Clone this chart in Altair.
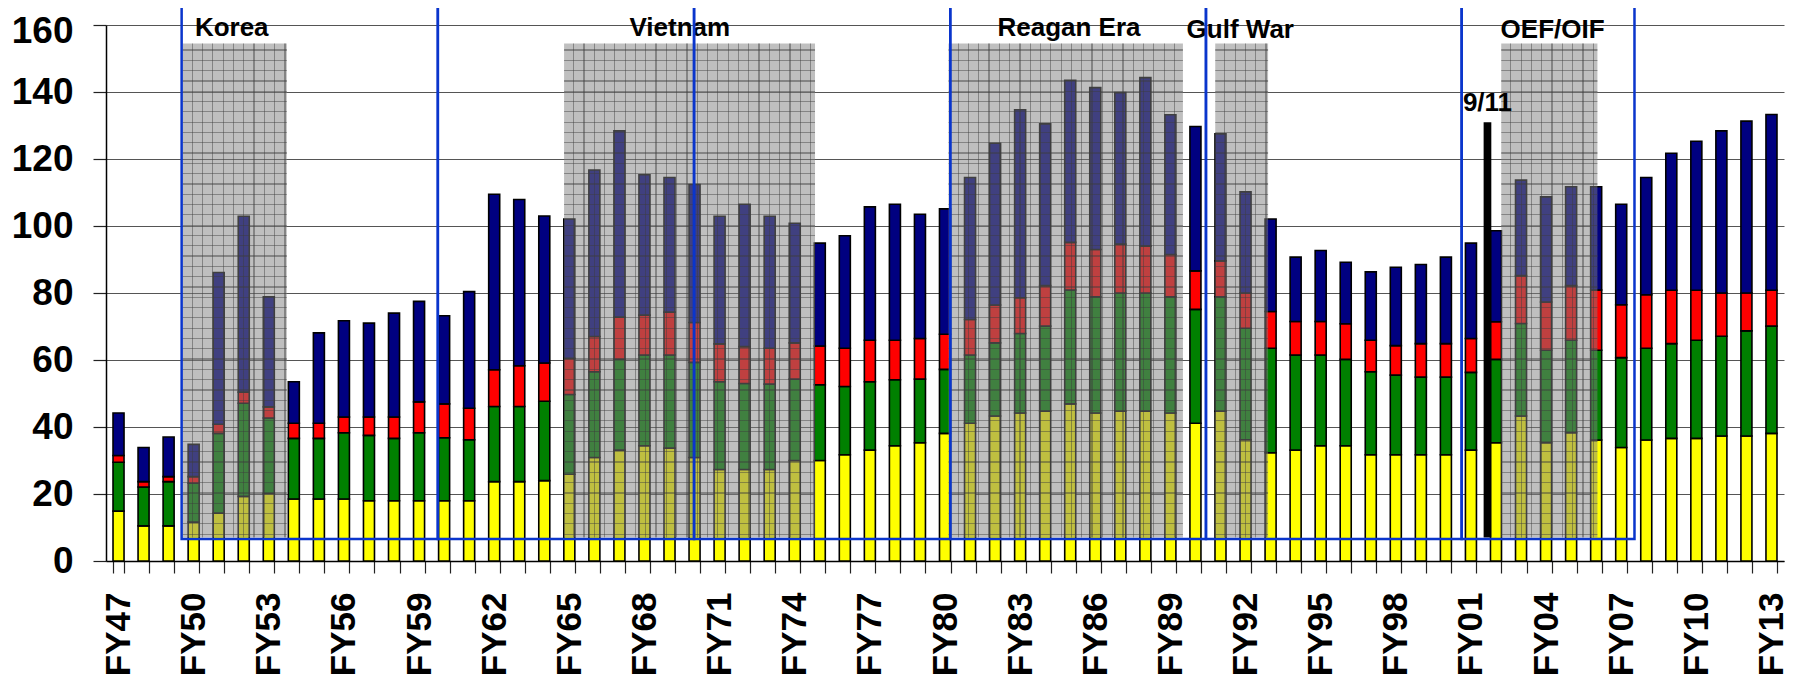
import altair as alt
import pandas as pd

# ---------------- data ----------------
years = list(range(1947, 2014))
series_names = ["Series 1", "Series 2", "Series 3", "Series 4"]
series_colors = ["#FFFF00", "#008000", "#FF0000", "#000080"]

yellow = [14.9, 10.5, 10.5, 11.6, 14.3, 19.3, 20.1, 18.5, 18.5, 18.5,
          18.0, 18.0, 18.0, 18.0, 18.0, 23.7, 23.7, 24.0, 25.9, 30.9,
          33.1, 34.4, 33.7, 30.9, 27.3, 27.3, 27.3, 30.0, 30.0, 31.7,
          33.1, 34.4, 35.3, 38.1, 41.1, 43.3, 44.2, 44.7, 46.9, 44.2,
          44.7, 44.7, 44.2, 41.1, 44.7, 36.2, 32.3, 33.1, 34.4, 34.4,
          31.7, 31.7, 31.7, 31.7, 33.1, 35.3, 43.3, 35.3, 38.3, 36.1,
          33.9, 36.1, 36.6, 36.6, 37.3, 37.3, 38.1]
green = [14.6, 11.6, 13.2, 11.6, 23.8, 27.8, 22.6, 18.1, 18.1, 19.8,
         19.5, 18.6, 20.3, 18.8, 18.2, 22.4, 22.4, 23.7, 23.8, 25.6,
         27.1, 27.1, 27.8, 28.4, 26.2, 25.7, 25.5, 24.3, 22.6, 20.4,
         20.4, 19.7, 19.0, 19.1, 20.4, 21.8, 23.7, 25.4, 34.0, 34.7,
         35.3, 35.3, 34.7, 34.0, 34.2, 33.3, 31.2, 28.4, 27.1, 25.8,
         24.8, 23.8, 23.2, 23.2, 23.2, 24.9, 27.6, 27.6, 27.6, 26.8,
         26.8, 27.4, 28.3, 29.3, 29.8, 31.4, 32.0]
red = [2.0, 1.6, 1.5, 2.0, 2.7, 3.3, 3.3, 4.5, 4.5, 4.7,
       5.5, 6.4, 9.2, 10.1, 9.4, 11.0, 12.2, 11.4, 10.8, 10.5,
       12.6, 11.9, 12.8, 11.9, 11.3, 11.0, 10.7, 10.8, 11.6, 11.4,
       12.4, 11.8, 12.1, 10.5, 10.6, 11.3, 10.7, 12.1, 14.2, 14.1,
       14.6, 14.0, 12.6, 11.5, 10.7, 10.5, 11.0, 10.0, 10.0, 10.6,
       9.4, 8.8, 10.0, 10.0, 10.1, 11.2, 14.3, 14.4, 16.3, 18.0,
       15.8, 16.0, 15.9, 14.9, 12.9, 11.3, 10.7]
navy = [12.7, 10.2, 11.8, 9.6, 45.3, 52.5, 32.9, 12.4, 27.0, 28.7,
        28.0, 31.0, 30.0, 26.3, 34.8, 52.4, 49.6, 43.9, 41.6, 49.7,
        55.6, 41.9, 40.2, 41.2, 38.1, 42.5, 39.4, 35.7, 30.7, 33.6,
        39.8, 40.6, 37.1, 37.4, 42.4, 48.3, 56.1, 48.3, 48.4, 48.3,
        45.2, 50.3, 41.7, 43.1, 37.9, 30.2, 27.6, 19.2, 21.2, 18.4,
        20.4, 23.4, 23.6, 25.8, 28.5, 27.2, 28.5, 31.4, 29.5, 30.8,
        30.0, 35.0, 40.9, 44.5, 48.4, 51.3, 52.5]

# shaded eras (fiscal-year units)
era_names = ["Korea", "Vietnam", "Reagan Era", "Gulf War", "OEF/OIF"]
era_start = [1949.56, 1964.79, 1980.14, 1990.79, 2002.21]
era_end = [1953.72, 1974.81, 1989.50, 1992.90, 2006.05]
era_label_x = [1951.52, 1969.41, 1984.95, 1991.79, 2004.26]
era_label_y = [159.0, 159.0, 159.0, 158.4, 158.4]
shade_low = [7.0, 7.0, 7.0, 7.0, 7.0]
shade_high = [154.5, 154.5, 154.5, 154.5, 154.5]

# blue outline boxes
box_edges = [1949.52, 1959.75, 1969.98, 1980.21, 1990.42, 2000.63, 2007.53]
box_low = 6.6
box_high = 172.0

# 9/11 marker
event_label = ["9/11"]
event_x = [2001.66]
event_low = [7.0]
event_high = [131.0]
event_label_y = [136.8]

# ---------------- tables ----------------
rows = []
for i, y in enumerate(years):
    for k, (nm, vals) in enumerate(zip(series_names, [yellow, green, red, navy])):
        rows.append({"year": y, "series": nm, "value": vals[i], "order": k})
df = pd.DataFrame(rows)

eras = pd.DataFrame({"name": era_names, "start": era_start, "end": era_end,
                     "lx": era_label_x, "ly": era_label_y,
                     "lo": shade_low, "hi": shade_high})
boxes = pd.DataFrame({"a": box_edges[:-1], "b": box_edges[1:],
                      "lo": [box_low] * (len(box_edges) - 1),
                      "hi": [box_high] * (len(box_edges) - 1)})
event = pd.DataFrame({"label": event_label, "x": event_x, "lo": event_low,
                      "hi": event_high, "ly": event_label_y})

# ---------------- layout ----------------
W, H = 1678, 536
YMAX = 160
FONT = "Liberation Sans"
n_years = len(years)
step_px = W / n_years
px_per_unit = H / YMAX

yscale = alt.Scale(domain=[0, YMAX], nice=False, zero=True)
xlin = alt.Scale(domain=[years[0] - 0.5, years[-1] + 0.5], nice=False, zero=False)
yaxis = alt.Axis(title=None, values=list(range(0, YMAX + 1, 20)),
                 grid=True, gridColor="#555555", gridWidth=1,
                 tickSize=13, tickColor="#222222", tickWidth=1.2,
                 domainColor="black", domainWidth=1.5,
                 labelFont=FONT, labelFontSize=37, labelFontWeight="bold",
                 labelColor="black", labelPadding=20,
                 labelOffset={"condition": {"test": "datum.value == %d" % YMAX, "value": 6},
                              "value": 0})


def Y(field):
    return alt.Y(field, scale=yscale, axis=yaxis)


bars = alt.Chart(df).mark_bar(stroke="black", strokeWidth=1.6).encode(
    x=alt.X("year:O",
            scale=alt.Scale(paddingInner=0.56, paddingOuter=0.28),
            axis=alt.Axis(title=None, tickBand="extent", labelAngle=-90,
                          labelExpr="datum.value % 3 == 0 ? 'FY' + slice(toString(datum.value), 2) : ''",
                          labelFont=FONT, labelFontSize=35, labelFontWeight="bold",
                          labelColor="black", labelPadding=19, labelOverlap=False,
                          tickSize=12, tickColor="#222222", tickWidth=1.2,
                          domainColor="black", domainWidth=1.5, grid=False)),
    y=alt.Y("value:Q", stack="zero", scale=yscale, axis=yaxis),
    color=alt.Color("series:N", scale=alt.Scale(domain=series_names, range=series_colors),
                    legend=None),
    order=alt.Order("order:Q"),
)


def era_enc(chart):
    return chart.encode(
        x=alt.X("start:Q", scale=xlin, axis=None),
        x2="end:Q",
        y=Y("lo:Q"),
        y2="hi:Q",
    )


shade = era_enc(alt.Chart(eras).mark_rect(fill="#7f7f7f", opacity=0.5))

# hatch texture (grid) drawn with hard-stop gradients
LINE = "rgba(60,60,60,0.45)"
CLEAR = "rgba(0,0,0,0)"
PERIOD = 10.3
LW = 1.2


def stripe_stops(length_px, first):
    stops = [{"offset": 0, "color": CLEAR}]
    p = first
    while p + LW < length_px:
        a = p / length_px
        b = (p + LW) / length_px
        stops += [{"offset": a, "color": CLEAR}, {"offset": a, "color": LINE},
                  {"offset": b, "color": LINE}, {"offset": b, "color": CLEAR}]
        p += PERIOD
    stops.append({"offset": 1, "color": CLEAR})
    return stops


h_px = (shade_high[0] - shade_low[0]) * px_per_unit
hatch_h = era_enc(alt.Chart(eras).mark_rect(
    fill={"gradient": "linear", "x1": 0, "x2": 0, "y1": 0, "y2": 1,
          "stops": stripe_stops(h_px, 6.0)}))

hatch_v = []
for nm, s, e in zip(era_names, era_start, era_end):
    w_px = (e - s) * step_px
    hatch_v.append(era_enc(alt.Chart(eras).transform_filter(alt.datum.name == nm).mark_rect(
        fill={"gradient": "linear", "x1": 0, "x2": 1, "y1": 0, "y2": 0,
              "stops": stripe_stops(w_px, 9.0)})))

blue = alt.Chart(boxes).mark_rect(fill="white", fillOpacity=0, stroke="#0a35cc",
                                  strokeWidth=2.5).encode(
    x=alt.X("a:Q", scale=xlin, axis=None), x2="b:Q",
    y=Y("lo:Q"), y2="hi:Q")

marker = alt.Chart(event).mark_rule(color="black", strokeWidth=7.7).encode(
    x=alt.X("x:Q", scale=xlin, axis=None),
    y=Y("lo:Q"), y2="hi:Q")

marker_text = alt.Chart(event).mark_text(font=FONT, fontSize=26, fontWeight="bold",
                                         color="black", align="center",
                                         baseline="middle").encode(
    x=alt.X("x:Q", scale=xlin, axis=None),
    y=Y("ly:Q"), text="label:N")

era_text = alt.Chart(eras).mark_text(font=FONT, fontSize=26, fontWeight="bold",
                                     color="black", align="center",
                                     baseline="middle").encode(
    x=alt.X("lx:Q", scale=xlin, axis=None),
    y=Y("ly:Q"), text="name:N")

overlay = alt.layer(shade, hatch_h, *hatch_v, marker, marker_text, era_text, blue)

chart = alt.layer(bars, overlay).resolve_scale(x="independent").properties(
    width=W, height=H,
    autosize=alt.AutoSizeParams(type="none"),
    padding={"left": 98, "top": 17, "right": 10, "bottom": 115},
    background="white",
).configure_view(stroke=None)

chart.save("out.html", embed_options={"renderer": "svg", "actions": False})
